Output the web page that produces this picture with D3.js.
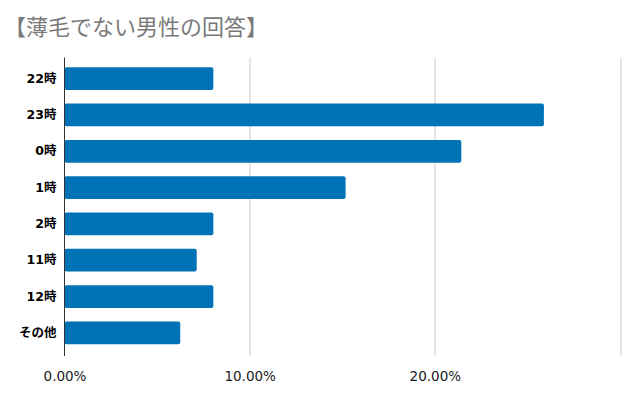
<!DOCTYPE html>
<html>
<head>
<meta charset="utf-8">
<script src="https://cdn.jsdelivr.net/npm/d3@7"></script>
<style>
  body { margin: 0; background: #fff; }
</style>
</head>
<body>
<div id="chart"></div>
<script>
// data (percent of 112 answers)
const categories = ['22時', '23時', '0時', '1時', '2時', '11時', '12時', 'その他'];
const values = [8.04, 25.89, 21.43, 15.18, 8.04, 7.14, 8.04, 6.25];
const tickValues = [0, 10, 20, 30];
const tickLabels = ['0.00%', '10.00%', '20.00%', ''];
const title = '【薄毛でない男性の回答】';

// dimensions
const svgWidth = 640;
const svgHeight = 396;
const margin = { top: 60.5, right: 20, bottom: 45, left: 64.5 };
const chartWidth = 620 - margin.left;
const chartHeight = 351 - margin.top;

let svg = d3.select('#chart')
  .append('svg')
  .attr('width', svgWidth)
  .attr('height', svgHeight);

// title
svg.append('text')
  .attr('x', 4)
  .attr('y', 35)
  .attr('font-family', '"Noto Sans CJK JP", sans-serif')
  .attr('font-size', 22)
  .attr('fill', '#7a7a7a')
  .text(title);

let chartGroup = svg.append('g')
  .attr('transform', `translate(${margin.left}, ${margin.top})`);

// scales
let x = d3.scaleLinear().domain([0, 30]).range([0, chartWidth]);
let y = d3.scaleBand().domain(categories).range([0, chartHeight]).paddingInner(0.375).paddingOuter(0.1875);

// gridlines
chartGroup.selectAll('.grid')
  .data(tickValues.slice(1))
  .enter().append('line')
  .attr('x1', d => Math.round(x(d)) + 0.5)
  .attr('x2', d => Math.round(x(d)) + 0.5)
  .attr('y1', -3)
  .attr('y2', chartHeight + 5)
  .attr('stroke', '#cccccc')
  .attr('stroke-width', 1);

// bars
chartGroup.selectAll('.bar')
  .data(values)
  .enter().append('rect')
  .attr('x', 0)
  .attr('y', (d, i) => y(categories[i]))
  .attr('width', d => x(d))
  .attr('height', y.bandwidth())
  .attr('rx', 2)
  .attr('fill', '#0073b6');

// x axis labels
let bottomAxis = d3.axisBottom(x)
  .tickValues(tickValues)
  .tickSize(0)
  .tickFormat((d, i) => tickLabels[i]);

let xAxis = chartGroup.append('g')
  .attr('transform', `translate(0, ${chartHeight + 5})`)
  .call(bottomAxis);
xAxis.select('.domain').remove();
xAxis.selectAll('text')
  .attr('dy', 0)
  .attr('y', 25)
  .attr('font-family', '"DejaVu Sans", sans-serif')
  .attr('font-size', 13.5)
  .attr('fill', '#1a1a1a');

// y axis
let leftAxis = d3.axisLeft(y).tickSize(0).tickPadding(8);
let yAxis = chartGroup.append('g').call(leftAxis);
yAxis.select('.domain').remove();
yAxis.selectAll('text')
  .attr('font-family', '"DejaVu Sans", "Noto Sans CJK JP", sans-serif')
  .attr('font-weight', 'bold')
  .attr('font-size', 12.5)
  .attr('fill', '#000');

chartGroup.append('line')
  .attr('x1', 0).attr('x2', 0)
  .attr('y1', -3).attr('y2', chartHeight + 5)
  .attr('stroke', '#333')
  .attr('stroke-width', 1);
</script>
</body>
</html>
